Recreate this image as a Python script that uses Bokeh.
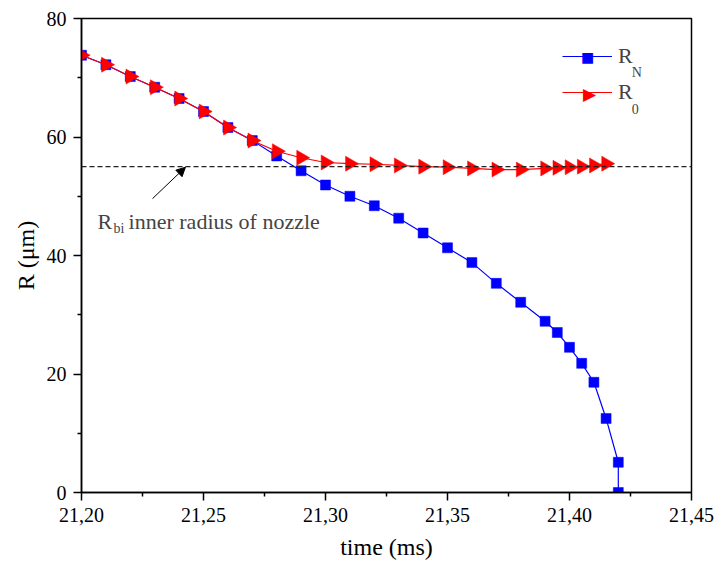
import math
from bokeh.plotting import figure
from bokeh.models import (Range1d, FixedTicker, CustomJSTickFormatter, Span, Label,
                          Arrow, NormalHead, Legend, LegendItem, ColumnDataSource)
from bokeh.embed import file_html
from bokeh.resources import INLINE

# ---- data ----
t_N = [21.20, 21.21, 21.22, 21.23, 21.24, 21.25, 21.26, 21.27, 21.28, 21.29,
       21.30, 21.31, 21.32, 21.33, 21.34, 21.35, 21.36, 21.37, 21.38, 21.39,
       21.395, 21.40, 21.405, 21.41, 21.415, 21.42, 21.42]
R_N = [73.8, 72.2, 70.2, 68.4, 66.5, 64.3, 61.6, 59.4, 56.8, 54.3,
       51.9, 50.0, 48.4, 46.3, 43.8, 41.3, 38.8, 35.3, 32.1, 28.9,
       27.0, 24.5, 21.8, 18.6, 12.5, 5.1, 0.0]

t_0 = [21.20, 21.21, 21.22, 21.23, 21.24, 21.25, 21.26, 21.27, 21.28, 21.29,
       21.30, 21.31, 21.32, 21.33, 21.34, 21.35, 21.36, 21.37, 21.38, 21.39,
       21.395, 21.40, 21.405, 21.41, 21.415]
R_0 = [73.8, 72.2, 70.2, 68.4, 66.5, 64.3, 61.6, 59.4, 57.6, 56.5,
       55.7, 55.5, 55.4, 55.2, 55.0, 54.9, 54.7, 54.5, 54.5, 54.7,
       54.8, 54.9, 55.0, 55.2, 55.5]

R_bi = 55.0
x_ticks = [21.20, 21.25, 21.30, 21.35, 21.40, 21.45]
x_minor = [21.225, 21.275, 21.325, 21.375, 21.425]
y_ticks = [0, 20, 40, 60, 80]
y_minor = [10, 30, 50, 70]

FONT = "Liberation Serif"

p = figure(width=715, height=568, output_backend="svg", toolbar_location=None,
           x_range=Range1d(21.20, 21.45), y_range=Range1d(0, 80),
           min_border_left=81, min_border_right=24, min_border_top=18,
           min_border_bottom=76)
p.grid.visible = False
p.outline_line_color = "black"
p.outline_line_width = 1.5
p.background_fill_color = "white"
p.border_fill_color = "white"

p.xaxis.ticker = FixedTicker(ticks=x_ticks, minor_ticks=x_minor)
p.yaxis.ticker = FixedTicker(ticks=y_ticks, minor_ticks=y_minor)
p.xaxis.formatter = CustomJSTickFormatter(code="return tick.toFixed(2).replace('.', ',');")

for ax in (p.xaxis[0], p.yaxis[0]):
    ax.axis_line_width = 1.5
    ax.axis_line_color = "black"
    ax.major_tick_line_width = 1.5
    ax.minor_tick_line_width = 1.5
    ax.major_tick_out = 8
    ax.major_tick_in = 0
    ax.minor_tick_out = 4
    ax.minor_tick_in = 0
    ax.major_label_text_font = FONT
    ax.major_label_text_font_size = "20px"
    ax.major_label_text_color = "black"
    ax.axis_label_text_font = FONT
    ax.axis_label_text_font_size = "24px"
    ax.axis_label_text_font_style = "normal"
    ax.axis_label_text_color = "black"
    ax.major_label_standoff = 7

p.xaxis.axis_label = "time (ms)"
p.yaxis.axis_label = "R (μm)"
p.xaxis.axis_label_standoff = 9
p.yaxis.axis_label_standoff = 5

# dashed reference line
p.add_layout(Span(location=R_bi, dimension="width", line_color="#222222",
                  line_dash="5 3", line_width=1.2))

# series
src_N = ColumnDataSource(dict(t=t_N, r=R_N))
src_0 = ColumnDataSource(dict(t=t_0, r=R_0))
lN = p.line("t", "r", source=src_N, line_color="#0000FF", line_width=1.2)
mN = p.scatter("t", "r", source=src_N, marker="square", size=10,
               fill_color="#0000FF", line_color="#0000FF", line_width=0.5)
l0 = p.line("t", "r", source=src_0, line_color="#FF0000", line_width=1.2)
m0 = p.scatter("t", "r", source=src_0, marker="triangle", size=15, angle=-math.pi / 2,
               fill_color="#FF0000", line_color="#FF0000", line_width=0.5)

legend = Legend(items=[LegendItem(label="R", renderers=[lN]),
                       LegendItem(label="R", renderers=[l0])],
                location=(481, 387), orientation="vertical",
                glyph_width=50, glyph_height=20, label_height=20, spacing=10,
                label_standoff=6, padding=0, margin=0,
                border_line_color=None, background_fill_alpha=0,
                label_text_font=FONT, label_text_font_size="22px")
p.add_layout(legend)

# legend marker symbols (Bokeh legends do not rotate markers)
p.add_layout(Label(x=21.4074, y=(492 - 56) / 5.925, text="■", text_font="DejaVu Sans",
                   text_font_size="14px", text_color="#0000FF",
                   text_align="center", text_baseline="middle"))
p.add_layout(Label(x=21.4082, y=(492 - 93) / 5.925, text="▶", text_font="DejaVu Sans",
                   text_font_size="17px", text_color="#FF0000",
                   text_align="center", text_baseline="middle"))

# legend subscripts
p.add_layout(Label(x=21.4255, y=(492 - 72) / 5.925, text="N", text_font=FONT,
                   text_font_size="14px", text_baseline="alphabetic"))
p.add_layout(Label(x=21.4255, y=(492 - 108) / 5.925, text="0", text_font=FONT,
                   text_font_size="14px", text_baseline="alphabetic"))

# annotation text
p.add_layout(Label(x=21.2066, y=45.8, text="R", text_font=FONT,
                   text_font_size="22px", text_baseline="alphabetic"))
p.add_layout(Label(x=21.2131, y=44.6, text="bi", text_font=FONT,
                   text_font_size="14px", text_baseline="alphabetic"))
p.add_layout(Label(x=21.2193, y=45.8, text="inner radius of nozzle", text_font=FONT,
                   text_font_size="22px", text_baseline="alphabetic"))

# arrow
p.add_layout(Arrow(x_start=21.2291, y_start=49.6, x_end=21.2426, y_end=54.9,
                   line_color="black", line_width=1,
                   end=NormalHead(size=9, fill_color="black", line_color="black")))

open("out.html", "w").write(file_html(p, INLINE))
